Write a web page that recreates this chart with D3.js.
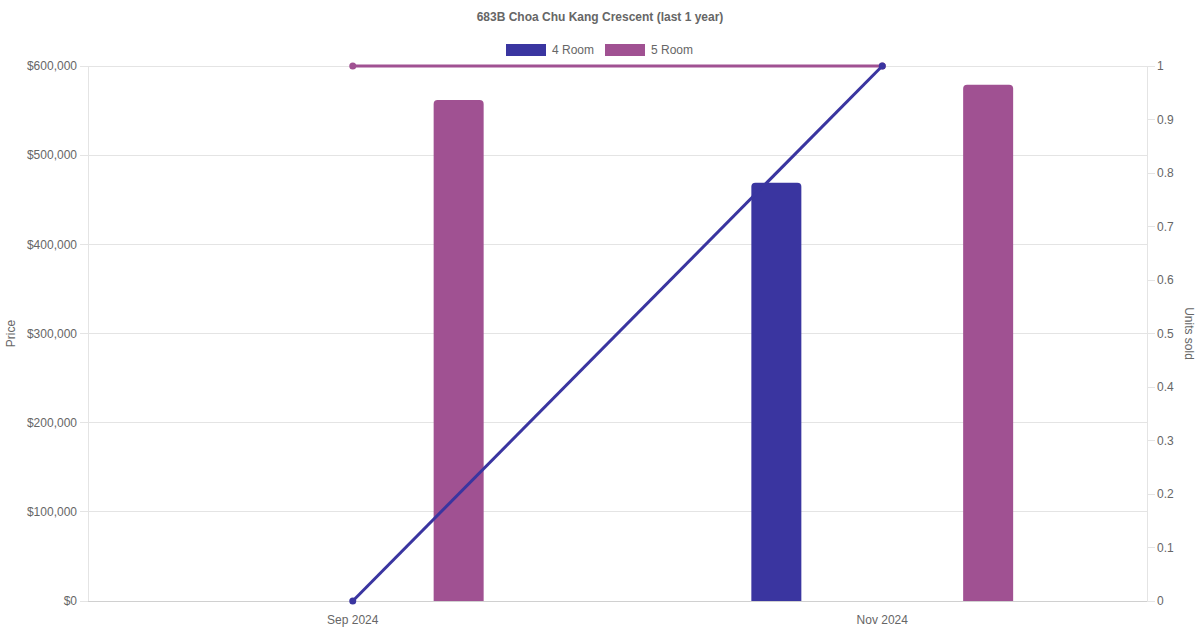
<!DOCTYPE html>
<html><head><meta charset="utf-8">
<script src="https://cdn.jsdelivr.net/npm/d3@7"></script>
<style>body{margin:0;background:#fff;font-family:"Liberation Sans",Arial,sans-serif;}</style>
</head><body><svg id="c" width="1200" height="630"></svg>
<script>
const title = "683B Choa Chu Kang Crescent (last 1 year)";
const categories = ["Sep 2024", "Nov 2024"];
const seriesNames = ["4 Room", "5 Room"];
const seriesColors = ["#3a35a0", "#a05192"];
const priceValues = [[null, 469000], [562000, 579000]];
const unitsValues = [[0, 1], [1, 1]];
const priceTicks = [0, 100000, 200000, 300000, 400000, 500000, 600000];
const unitTicks = [0, 0.1, 0.2, 0.3, 0.4, 0.5, 0.6, 0.7, 0.8, 0.9, 1];

const svg = d3.select("#c");
const L = 88, R = 1147, T = 66, B = 601;
const x = d3.scaleBand().domain(categories).range([L, R]);
const xs = d3.scaleBand().domain(seriesNames).range([0, x.bandwidth()]).paddingOuter(0).padding(0);
const yL = d3.scaleLinear().domain([0, 600000]).range([B, T]);
const yR = d3.scaleLinear().domain([0, 1]).range([B, T]);
const grid = "#e4e4e4", txt = "#666";
const fmt = d => "$" + d3.format(",")(d);

// gridlines
svg.append("g").selectAll("line").data(priceTicks).join("line")
  .attr("x1", L - 8).attr("x2", R).attr("y1", d => yL(d)).attr("y2", d => yL(d))
  .attr("stroke", grid).attr("stroke-width", 1).attr("shape-rendering", "crispEdges");
svg.append("g").selectAll("line").data(unitTicks).join("line")
  .attr("x1", R).attr("x2", R + 8).attr("y1", d => yR(d)).attr("y2", d => yR(d))
  .attr("stroke", grid).attr("shape-rendering", "crispEdges");
svg.append("line").attr("x1", L).attr("x2", L).attr("y1", T).attr("y2", B).attr("stroke", grid).attr("shape-rendering", "crispEdges");
svg.append("line").attr("x1", R).attr("x2", R).attr("y1", T).attr("y2", B).attr("stroke", grid).attr("shape-rendering", "crispEdges");
svg.append("line").attr("x1", L).attr("x2", R).attr("y1", B).attr("y2", B).attr("stroke", "#d0d0d0").attr("shape-rendering", "crispEdges");

// tick labels
svg.append("g").selectAll("text").data(priceTicks).join("text")
  .attr("x", L - 11).attr("y", d => yL(d)).attr("dy", "0.35em").attr("text-anchor", "end")
  .attr("font-size", 12).attr("fill", txt).text(fmt);
svg.append("g").selectAll("text").data(unitTicks).join("text")
  .attr("x", R + 10).attr("y", d => yR(d)).attr("dy", "0.35em").attr("text-anchor", "start")
  .attr("font-size", 12).attr("fill", txt).text(d => d3.format("")(d));
svg.append("g").selectAll("text").data(categories).join("text")
  .attr("x", d => x(d) + x.bandwidth() / 2).attr("y", 624).attr("text-anchor", "middle")
  .attr("font-size", 12).attr("fill", txt).text(d => d);

// axis titles
svg.append("text").attr("transform", `translate(15,${(T + B) / 2}) rotate(-90)`).attr("text-anchor", "middle")
  .attr("font-size", 12).attr("fill", txt).text("Price");
svg.append("text").attr("transform", `translate(1185,${(T + B) / 2}) rotate(90)`).attr("text-anchor", "middle")
  .attr("font-size", 12).attr("fill", txt).text("Units sold");

// title
svg.append("text").attr("x", 600).attr("y", 21).attr("text-anchor", "middle")
  .attr("font-size", 12).attr("font-weight", "bold").attr("fill", txt).text(title);

// legend
const lg = svg.append("g");
const legX = [506, 605];
seriesNames.forEach((s, i) => {
  lg.append("rect").attr("x", legX[i]).attr("y", 44).attr("width", 40).attr("height", 12)
    .attr("fill", seriesColors[i]);
  lg.append("text").attr("x", legX[i] + 46).attr("y", 50).attr("dy", "0.35em")
    .attr("font-size", 12).attr("fill", txt).text(s);
});

// bars
const barW = 50, rad = 4;
function barPath(cx, top, bottom) {
  const x0 = cx - barW / 2, x1 = cx + barW / 2;
  return `M${x0},${bottom}L${x0},${top + rad}Q${x0},${top} ${x0 + rad},${top}L${x1 - rad},${top}Q${x1},${top} ${x1},${top + rad}L${x1},${bottom}Z`;
}
seriesNames.forEach((s, si) => {
  categories.forEach((c, ci) => {
    const v = priceValues[si][ci];
    if (v == null) return;
    const cx = x(c) + x.bandwidth() * 0.1 + xs(s) * 0.8 + xs.bandwidth() * 0.8 / 2;
    svg.append("path").attr("d", barPath(cx, yL(v), yL(0)))
      .attr("fill", seriesColors[si]);
  });
});

// lines (drawn on top)
const line = d3.line().x((d, i) => x(categories[i]) + x.bandwidth() / 2).y(d => yR(d));
[1, 0].forEach(si => {
  svg.append("path").datum(unitsValues[si]).attr("d", line).attr("fill", "none")
    .attr("stroke", seriesColors[si]).attr("stroke-width", 3);
  svg.append("g").selectAll("circle").data(unitsValues[si]).join("circle")
    .attr("cx", (d, i) => x(categories[i]) + x.bandwidth() / 2).attr("cy", d => yR(d)).attr("r", 3.5)
    .attr("fill", seriesColors[si]);
});
</script></body></html>
